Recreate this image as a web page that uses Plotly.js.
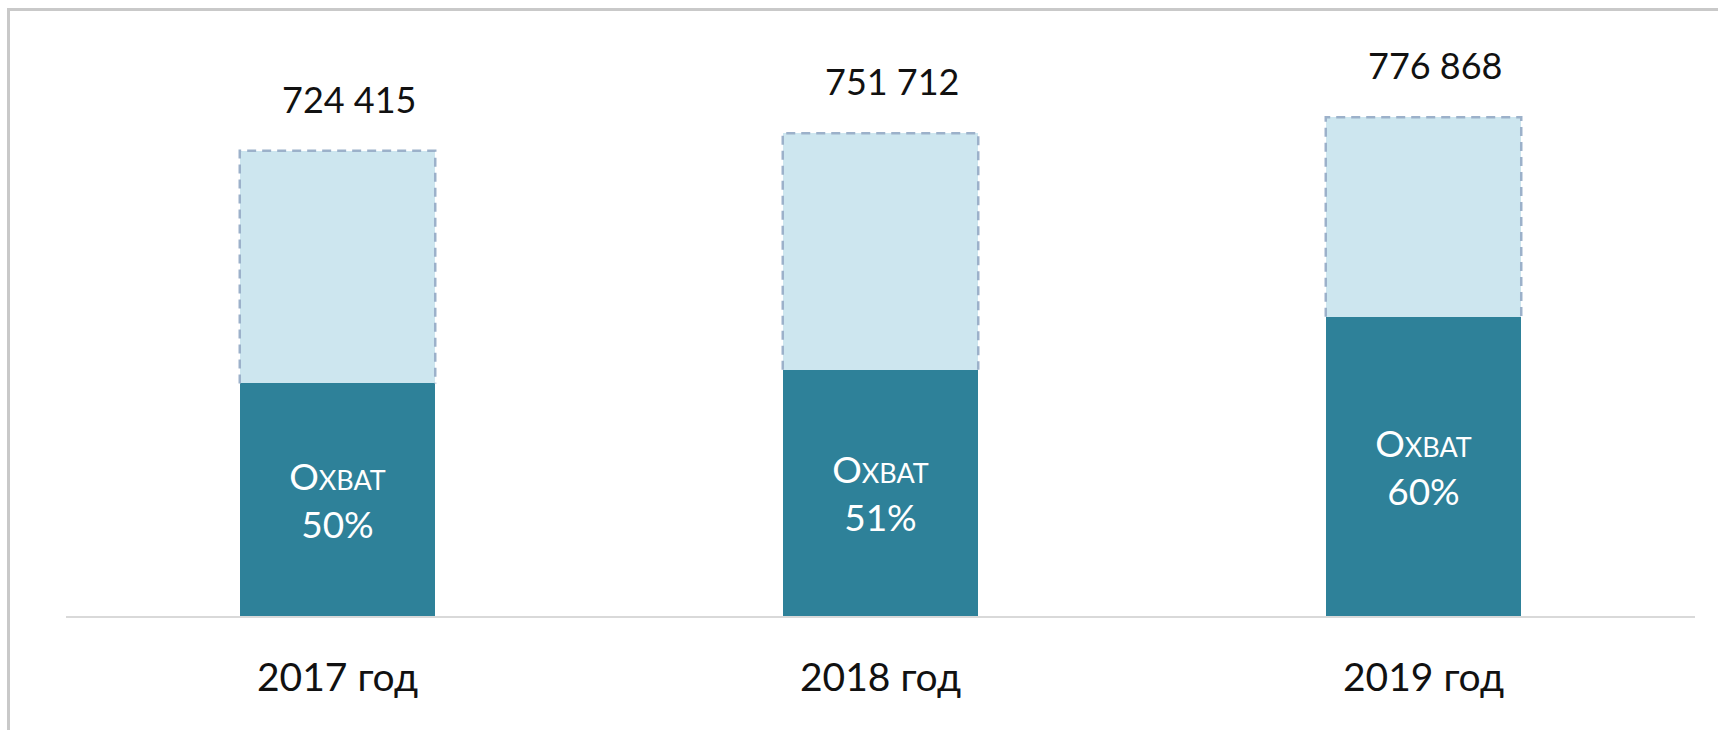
<!DOCTYPE html>
<html>
<head>
<meta charset="utf-8">
<script src="https://cdn.plot.ly/plotly-3.0.1.min.js"></script>
<style>
  html, body { margin: 0; padding: 0; background: #ffffff; }
  #wrap { position: relative; width: 1718px; height: 730px; overflow: hidden; }
  #chart { position: absolute; left: 0; top: 0; width: 1718px; height: 730px; }
  #frame { position: absolute; left: 7px; top: 8px; width: 1730px; height: 740px;
           border-left: 3px solid #c9c9c9; border-top: 3px solid #c9c9c9; pointer-events: none; }
</style>
</head>
<body>
<div id="wrap">
  <div id="chart"></div>
  <div id="frame"></div>
</div>
<script>
// ---- data ----
const categories = ["2017 год", "2018 год", "2019 год"];
const totals = [724415, 751712, 776868];          // total number (label above each bar)
const coveragePct = [50, 51, 60];                 // "Охват" share, %
const totalLabels = ["724 415", "751 712", "776 868"];

// ---- derived ----
const xs = categories.map((_, i) => i);
const covered = totals.map((t, i) => t * coveragePct[i] / 100);
const uncovered = totals.map((t, i) => t - covered[i]);

const BAR_W = 0.36;
const DARK = "#2e8199";
const LIGHT = "#cde6ef";
const DASH = "#9cb1ca";
const FONT = "Lato, 'Open Sans', sans-serif";

const traces = [
  {
    type: "bar", x: xs, y: covered, width: BAR_W,
    marker: { color: DARK, line: { width: 0 } },
    text: coveragePct.map(p => "О<span style=\"font-size:27px\">ХВАТ</span><br>" + p + "%"),
    textposition: "inside", insidetextanchor: "middle",
    textfont: { family: FONT, size: 37, color: "#ffffff" },
    hoverinfo: "skip", showlegend: false
  },
  {
    type: "bar", x: xs, y: uncovered, width: BAR_W,
    marker: { color: LIGHT, line: { width: 0 } },
    hoverinfo: "skip", showlegend: false
  }
];

// dashed outline around the light (uncovered) part of each bar
xs.forEach((x, i) => {
  traces.push({
    type: "scatter", mode: "lines",
    x: [x - BAR_W / 2, x - BAR_W / 2, x + BAR_W / 2, x + BAR_W / 2],
    y: [covered[i], totals[i], totals[i], covered[i]],
    line: { color: DASH, width: 2.5, dash: "9px,6px" },
    hoverinfo: "skip", showlegend: false
  });
});

const annotations = xs.map((x, i) => ({
  x: x, y: totals[i], xref: "x", yref: "y",
  text: totalLabels[i], showarrow: false,
  yanchor: "bottom", xanchor: "center",
  xshift: 12, yshift: 28,
  font: { family: FONT, size: 36, color: "#111111" }
}));

const layout = {
  width: 1718, height: 730,
  margin: { l: 66, r: 23, t: 40, b: 114 },
  paper_bgcolor: "#ffffff", plot_bgcolor: "#ffffff",
  barmode: "stack",
  showlegend: false,
  xaxis: {
    range: [-0.5, 2.5], tickvals: xs, ticktext: categories,
    showgrid: false, zeroline: false,
    showline: true, linecolor: "#d9d9d9", linewidth: 2,
    ticks: "", ticklabelstandoff: 26,
    tickfont: { family: FONT, size: 39, color: "#111111" },
    fixedrange: true
  },
  yaxis: {
    range: [0, 897000], visible: false, showgrid: false, zeroline: false, fixedrange: true
  },
  annotations: annotations,
  font: { family: FONT }
};

Plotly.newPlot("chart", traces, layout, { staticPlot: true, displayModeBar: false });
</script>
</body>
</html>
